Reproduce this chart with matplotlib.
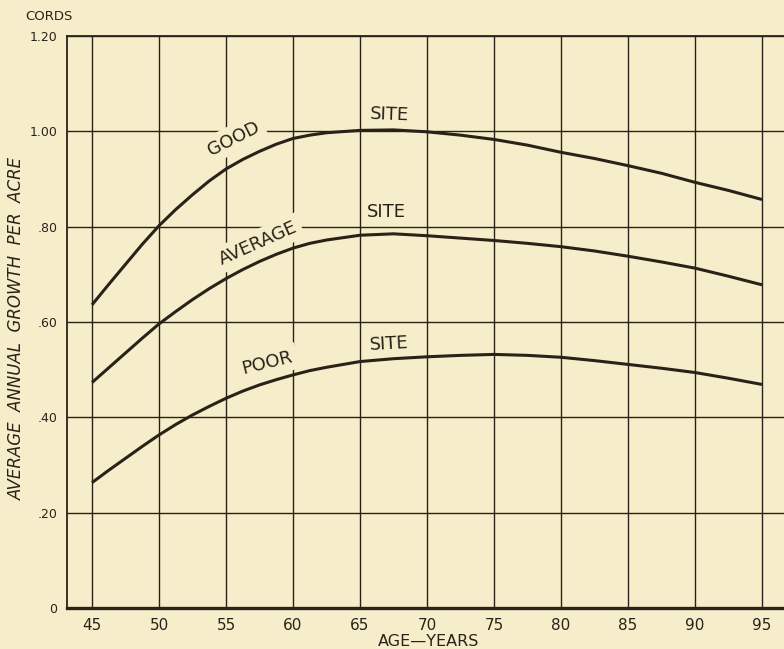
import matplotlib
matplotlib.use('Agg')
import matplotlib.pyplot as plt

# age (years) and average annual growth (cords per acre) for each site class
age = [45, 46.25, 47.5, 48.75, 50, 51.25, 52.5, 53.75, 55, 56.25, 57.5, 58.75, 60, 61.25,
       62.5, 65, 67.5, 70, 72.5, 75, 77.5, 80, 82.5, 85, 87.5, 90, 92.5, 95]
good_site = [0.636, 0.679, 0.721, 0.763, 0.802, 0.836, 0.867, 0.896, 0.921, 0.941, 0.958,
             0.973, 0.985, 0.992, 0.997, 1.002, 1.003, 0.999, 0.992, 0.983, 0.971, 0.956,
             0.943, 0.928, 0.912, 0.893, 0.876, 0.857]
average_site = [0.473, 0.504, 0.535, 0.566, 0.596, 0.622, 0.647, 0.670, 0.691, 0.710, 0.727,
                0.742, 0.755, 0.765, 0.772, 0.782, 0.785, 0.781, 0.776, 0.771, 0.765, 0.758,
                0.749, 0.738, 0.726, 0.713, 0.696, 0.678]
poor_site = [0.263, 0.289, 0.314, 0.339, 0.363, 0.385, 0.405, 0.423, 0.440, 0.455, 0.468,
             0.479, 0.489, 0.498, 0.505, 0.517, 0.523, 0.527, 0.530, 0.532, 0.530, 0.526,
             0.519, 0.511, 0.503, 0.494, 0.482, 0.469]

x_ticks = [45, 50, 55, 60, 65, 70, 75, 80, 85, 90, 95]
y_ticks = [0, 0.2, 0.4, 0.6, 0.8, 1.0, 1.2]
y_tick_labels = ['0', '.20', '.40', '.60', '.80', '1.00', '1.20']

paper = '#f6eecb'
ink = '#2a2218'

fig = plt.figure(figsize=(7.84, 6.49), dpi=100, facecolor=paper)
ax = fig.add_axes([67 / 784, 41 / 649, 717 / 784, 572 / 649], facecolor=paper)

ax.set_xlim(43.134, 96.642)
ax.set_ylim(0, 1.2)

ax.set_xticks(x_ticks)
ax.set_yticks(y_ticks)
ax.set_yticklabels(y_tick_labels)
ax.tick_params(length=0, colors=ink, pad=7)
ax.tick_params(axis='x', labelsize=11)
ax.tick_params(axis='y', labelsize=9)

ax.grid(True, color=ink, linewidth=1.0)
ax.set_axisbelow(True)

ax.spines['right'].set_visible(False)
ax.spines['left'].set_color(ink)
ax.spines['left'].set_linewidth(1.3)
ax.spines['top'].set_color(ink)
ax.spines['top'].set_linewidth(1.3)
ax.spines['bottom'].set_color(ink)
ax.spines['bottom'].set_linewidth(2.4)

for values in [good_site, average_site, poor_site]:
    ax.plot(age, values, color=ink, linewidth=2.2, zorder=5,
            solid_capstyle='butt', solid_joinstyle='round')

# curve names, with a paper-coloured box so the grid breaks behind them
box = dict(boxstyle='square,pad=0.25', facecolor=paper, edgecolor='none')
label_kw = dict(color=ink, fontsize=13, ha='center', va='center', zorder=4, bbox=box)

ax.text(55.6, 0.985, 'GOOD', rotation=27, **label_kw)
ax.text(67.2, 1.035, 'SITE', rotation=-2, **label_kw)
ax.text(57.4, 0.765, 'AVERAGE', rotation=24, **label_kw)
ax.text(67.0, 0.83, 'SITE', rotation=0, **label_kw)
ax.text(58.1, 0.515, 'POOR', rotation=14, **label_kw)
ax.text(67.2, 0.553, 'SITE', rotation=3, **label_kw)

fig.text(429 / 784, 1 - 641 / 649, 'AGE—YEARS', fontsize=11.5, color=ink,
         ha='center', va='center')
fig.text(17 / 784, 1 - 328 / 649, 'AVERAGE  ANNUAL  GROWTH  PER  ACRE', fontsize=12,
         style='italic', color=ink, rotation=90, ha='center', va='center')
fig.text(49 / 784, 1 - 17 / 649, 'CORDS', fontsize=9.5, color=ink, ha='center', va='center')

plt.savefig('out.png', dpi=100, facecolor=paper)
